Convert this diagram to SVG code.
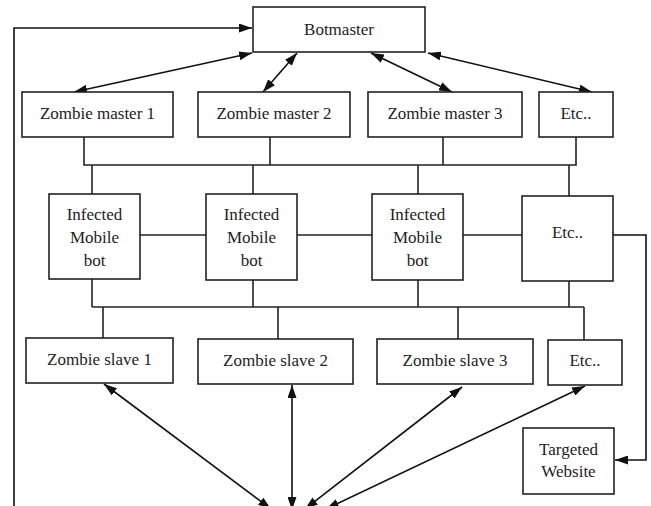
<svg xmlns="http://www.w3.org/2000/svg" width="651" height="506" viewBox="0 0 651 506">
<defs>
<marker id="ah" viewBox="0 0 13 9" refX="13" refY="4.5" markerWidth="13" markerHeight="9" markerUnits="userSpaceOnUse" orient="auto-start-reverse">
<path d="M0,0 L13,4.5 L0,9 z" fill="#111"/>
</marker>
<style>
.box{fill:#fff;stroke:#222;stroke-width:1.6}
.ln{fill:none;stroke:#222;stroke-width:1.6}
.ar{fill:none;stroke:#111;stroke-width:1.6;marker-start:url(#ah);marker-end:url(#ah)}
.ar1{fill:none;stroke:#111;stroke-width:1.6;marker-end:url(#ah)}
.t{font-family:'Liberation Serif','Times New Roman',Times,'DejaVu Serif','Noto Serif',FreeSerif,serif;font-size:17px;fill:#222;text-anchor:middle}
</style>
</defs>
<rect width="651" height="506" fill="#fff"/>
<g id="connectors">
<polyline class="ar1" points="14,510 14,28 252,28"/>
<line class="ar" x1="252" y1="53" x2="74" y2="92"/>
<line class="ar" x1="297" y1="53" x2="263" y2="92"/>
<line class="ar" x1="371" y1="53" x2="452" y2="92"/>
<line class="ar" x1="428" y1="53" x2="592" y2="92"/>
<polyline class="ln" points="84,137 84,165 576,165 576,137"/>
<line class="ln" x1="270" y1="137" x2="270" y2="165"/>
<line class="ln" x1="443" y1="137" x2="443" y2="165"/>
<line class="ln" x1="92" y1="165" x2="92" y2="194"/>
<line class="ln" x1="253" y1="165" x2="253" y2="194"/>
<line class="ln" x1="418" y1="165" x2="418" y2="194"/>
<line class="ln" x1="569" y1="165" x2="569" y2="196"/>
<line class="ln" x1="140" y1="235" x2="206" y2="235"/>
<line class="ln" x1="297" y1="235" x2="372" y2="235"/>
<line class="ln" x1="463" y1="235" x2="522" y2="235"/>
<polyline class="ar1" points="613,235 646,235 646,460 615,460"/>
<line class="ln" x1="92" y1="279" x2="92" y2="307"/>
<line class="ln" x1="253" y1="280" x2="253" y2="307"/>
<line class="ln" x1="418" y1="280" x2="418" y2="307"/>
<line class="ln" x1="569" y1="281" x2="569" y2="307"/>
<line class="ln" x1="92" y1="307" x2="584" y2="307"/>
<line class="ln" x1="103" y1="307" x2="103" y2="338"/>
<line class="ln" x1="278" y1="307" x2="278" y2="339"/>
<line class="ln" x1="458" y1="307" x2="458" y2="339"/>
<line class="ln" x1="584" y1="307" x2="584" y2="340"/>
<line class="ar" x1="104" y1="384" x2="271" y2="509"/>
<line class="ar" x1="292" y1="385" x2="292" y2="510"/>
<line class="ar" x1="462" y1="387" x2="305" y2="509"/>
<line class="ar" x1="585" y1="386" x2="326" y2="509"/>
</g>
<g id="botmaster"><rect class="box" x="253" y="7" width="172" height="45"/><text class="t" x="339" y="35">Botmaster</text></g>
<g id="zm1"><rect class="box" x="22" y="92" width="151" height="45"/><text class="t" x="97.5" y="119">Zombie master 1</text></g>
<g id="zm2"><rect class="box" x="198" y="92" width="152" height="45"/><text class="t" x="274" y="119">Zombie master 2</text></g>
<g id="zm3"><rect class="box" x="368" y="92" width="154" height="45"/><text class="t" x="445" y="119">Zombie master 3</text></g>
<g id="zm-etc"><rect class="box" x="539" y="92" width="74" height="45"/><text class="t" x="576" y="119">Etc..</text></g>
<g id="bot1"><rect class="box" x="49" y="194" width="91" height="85"/><text class="t" x="94.5" y="220">Infected</text><text class="t" x="94.5" y="243">Mobile</text><text class="t" x="94.5" y="266">bot</text></g>
<g id="bot2"><rect class="box" x="206" y="194" width="91" height="86"/><text class="t" x="251.5" y="220">Infected</text><text class="t" x="251.5" y="243">Mobile</text><text class="t" x="251.5" y="266">bot</text></g>
<g id="bot3"><rect class="box" x="372" y="194" width="91" height="86"/><text class="t" x="417.5" y="220">Infected</text><text class="t" x="417.5" y="243">Mobile</text><text class="t" x="417.5" y="266">bot</text></g>
<g id="bot-etc"><rect class="box" x="522" y="196" width="91" height="85"/><text class="t" x="567.5" y="238">Etc..</text></g>
<g id="zs1"><rect class="box" x="26" y="338" width="147" height="45"/><text class="t" x="99.5" y="365">Zombie slave 1</text></g>
<g id="zs2"><rect class="box" x="198" y="339" width="155" height="45"/><text class="t" x="275.5" y="366">Zombie slave 2</text></g>
<g id="zs3"><rect class="box" x="377" y="339" width="156" height="45"/><text class="t" x="455" y="366">Zombie slave 3</text></g>
<g id="zs-etc"><rect class="box" x="548" y="340" width="74" height="45"/><text class="t" x="585" y="366">Etc..</text></g>
<g id="target"><rect class="box" x="523" y="428" width="91" height="66"/><text class="t" x="568.5" y="455">Targeted</text><text class="t" x="568.5" y="477">Website</text></g>
</svg>
